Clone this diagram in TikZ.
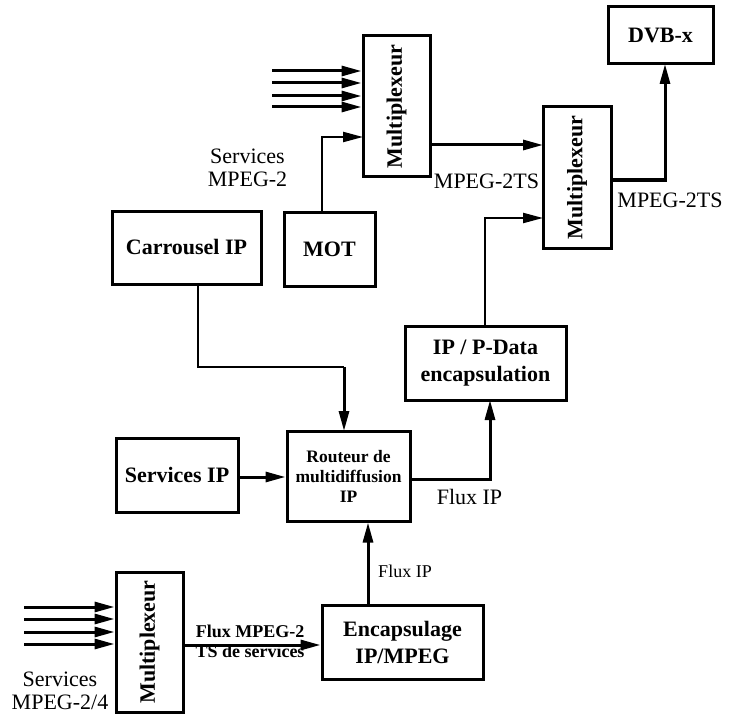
\documentclass[tikz,border=0pt]{standalone}
\usepackage{fontspec}
\setmainfont{Liberation Serif}
\usetikzlibrary{arrows.meta}
\begin{document}
\begin{tikzpicture}[x=1pt,y=-1pt,
  blk/.style={draw,line width=3pt,inner sep=0pt,align=center,font=\bfseries\fontsize{22}{27}\selectfont},
  mux/.style={blk,minimum width=67pt,minimum height=141pt},
  vtext/.style={rotate=90,font=\bfseries\fontsize{22}{27}\selectfont},
  arr/.style={line width=3pt,-{Triangle[length=20pt,width=10pt]}},
  thin/.style={line width=1.8pt},
  lbl/.style={font=\fontsize{22}{23}\selectfont,align=center,inner sep=0pt},
  slbl/.style={font=\fontsize{18}{20}\selectfont,inner sep=0pt},
  blbl/.style={font=\bfseries\fontsize{18}{20}\selectfont,align=center,inner sep=0pt}]
\useasboundingbox (0,0) rectangle (730,714);

% blocks
\node[mux] (M1) at (396.5,106.5) {};
\node[vtext] (M1t) at (M1.center) {Multiplexeur};
\node[mux,minimum width=68pt] (M2) at (577,177.5) {};
\node[vtext] (M2t) at (M2.center) {Multiplexeur};
\node[mux,minimum height=140pt] (M3) at (149.5,642) {};
\node[vtext] (M3t) at (M3.center) {Multiplexeur};
\node[blk,minimum width=105pt,minimum height=57pt] (DVB) at (660.5,35.5) {DVB-x};
\node[blk,minimum width=149pt,minimum height=73pt] (CAR) at (186.5,247.5) {Carrousel IP};
\node[blk,minimum width=91pt,minimum height=74pt] (MOT) at (329.5,249) {MOT};
\node[blk,minimum width=161pt,minimum height=74pt] (IPD) at (485.5,363) {IP / P-Data\\encapsulation};
\node[blk,minimum width=122pt,minimum height=74pt] (SIP) at (177,475) {Services IP};
\node[blk,minimum width=123pt,minimum height=90pt,font=\bfseries\fontsize{17.5}{20}\selectfont] (RT) at (348.5,476) {Routeur de\\multidiffusion\\IP};
\node[blk,minimum width=161pt,minimum height=74pt] (ENC) at (402.5,642) {Encapsulage\\IP/MPEG};

% free ends and bends
\coordinate (a1) at (272,71);
\coordinate (a2) at (272,83);
\coordinate (a3) at (272,96);
\coordinate (a4) at (272,107);
\coordinate (motin) at (363,137);
\coordinate (motout) at (322,212);
\coordinate (m1out) at (430,145);
\coordinate (m2in) at (543,145);
\coordinate (m2out) at (611,180);
\coordinate (dvbin) at (665,64);
\coordinate (ipdout) at (485,326);
\coordinate (m2in2) at (543,218);
\coordinate (carout) at (198,284);
\coordinate (carbend) at (198,367);
\coordinate (rtbend) at (344,367);
\coordinate (rtin) at (344,431);
\coordinate (rtout) at (410,479);
\coordinate (ipdin) at (490,400);
\coordinate (b1) at (24,607);
\coordinate (b2) at (24,619);
\coordinate (b3) at (24,632);
\coordinate (b4) at (24,644);

% service inputs of the upper multiplexer
\foreach \c in {a1,a2,a3,a4}
  \draw[arr] (\c) -- (\c -| M1.west);
\draw[arr,line width=2.2pt] (motout) |- (motin);
\draw[arr] (m1out) -- (m2in);
\draw[arr] (m2out) -| (dvbin);
\draw[arr,line width=2.2pt] (ipdout) |- (m2in2);

% IP side
\draw[thin] (carout) -- (carbend) -- (rtbend);
\draw[arr] (rtbend) -- (rtin);
\draw[arr] (SIP.east |- 0,477) -- (RT.west |- 0,477);
\draw[arr] (rtout) -| (ipdin);
\draw[arr] (ENC.north -| 368,0) -- (RT.south -| 368,0);

% lower multiplexer
\foreach \c in {b1,b2,b3,b4}
  \draw[arr] (\c) -- (\c -| M3.west);
\draw[arr] (M3.east |- 0,645) -- (ENC.west |- 0,645);

% labels
\node[lbl] (l1) at (247.5,168) {Services\\MPEG-2};
\node[lbl,anchor=base] (l2) at (486.5,188) {MPEG-2TS};
\node[lbl,anchor=base] (l3) at (670,207) {MPEG-2TS};
\node[lbl,anchor=base] (l4) at (469.5,504) {Flux IP};
\node[slbl,anchor=base] (l5) at (405,577) {Flux IP};
\node[blbl] (l6) at (250,641) {Flux MPEG-2\\TS de services};
\node[lbl] (l7) at (60,691) {Services\\MPEG-2/4};
\end{tikzpicture}
\end{document}
